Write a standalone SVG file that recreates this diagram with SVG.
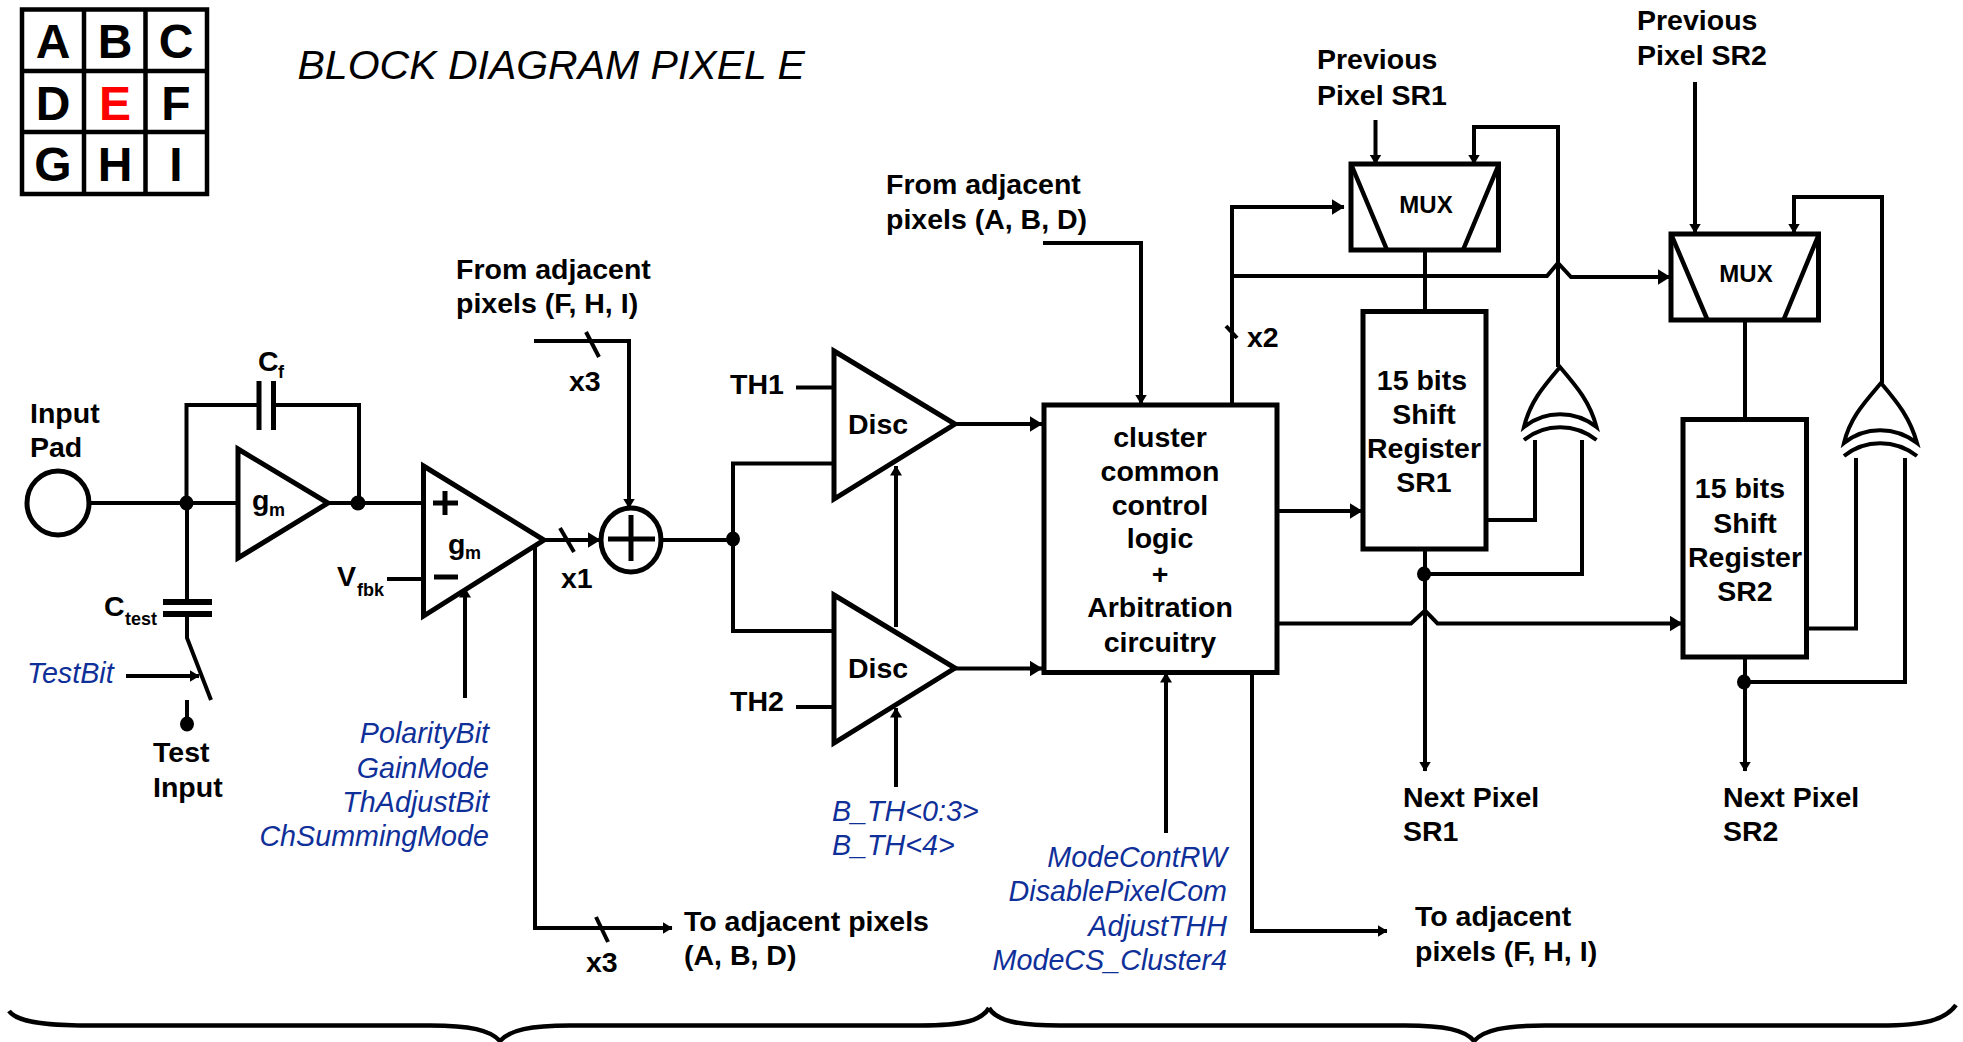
<svg xmlns="http://www.w3.org/2000/svg" width="1963" height="1042" viewBox="0 0 1963 1042">
<style>
text{font-family:"Liberation Sans",Arial,sans-serif;font-size:28.5px;fill:#000}
.b{font-weight:bold}
.i{font-style:italic;fill:#0f2f99;font-size:28.700px}
.e{text-anchor:end}
.m{text-anchor:middle}
.s{font-size:18px;font-weight:bold}
.g{font-size:48px;font-weight:bold;text-anchor:middle}
.x{font-size:24px;font-weight:bold;text-anchor:middle}
.l{fill:none;stroke:#000;stroke-width:4;stroke-linejoin:miter;stroke-linecap:butt}
.t{stroke-width:4.5}
.f{fill:#fff;stroke:#000;stroke-width:5}
.w{fill:none;stroke:#000;stroke-width:4}
.d{fill:#000}
</style>
<defs>
<marker id="a" markerUnits="userSpaceOnUse" markerWidth="10" markerHeight="12" refX="9.5" refY="6" orient="auto"><path d="M0 0L10 6L0 12Z"/></marker>
<marker id="A" markerUnits="userSpaceOnUse" markerWidth="13" markerHeight="16" refX="12.5" refY="8" orient="auto"><path d="M0 0L13 8L0 16Z"/></marker>
</defs>
<rect width="1963" height="1042" fill="#fff"/>

<g id="connectors">
<path class="l" d="M90 503H238"/>
<path class="l" d="M186.500 503V405H259M273.500 405H359V503"/>
<path class="l" d="M259 381V430M273.500 381V430" style="stroke-width:5"/>
<path class="l" d="M328 503H423"/>
<path class="l" d="M387 579H423"/>
<path class="l" marker-end="url(#A)" d="M544 540H600"/>
<path class="l" d="M560 528L574 552"/>
<path class="l" marker-end="url(#a)" d="M535 546V928H672"/>
<path class="l" d="M596 917L608 942"/>
<path class="l" d="M187 503V602M187 614V638L211 700"/>
<path class="l" d="M163 602H212M163 614H212" style="stroke-width:6"/>
<path class="l" marker-end="url(#a)" d="M126 676H199"/>
<path class="l" d="M187 700V724"/>
<path class="l" marker-end="url(#a)" d="M465 698V588"/>
<path class="l" marker-end="url(#a)" d="M534 341H629V508"/>
<path class="l" d="M586 332L599 357"/>
<path class="l" d="M661 540H733M834 463.500H733V631H834"/>
<path class="l" d="M796 387.500H834M796 707H834"/>
<path class="l" marker-end="url(#A)" d="M955 424H1042"/>
<path class="l" marker-end="url(#A)" d="M955 668.500H1042"/>
<path class="l" marker-end="url(#a)" d="M896 627V466"/>
<path class="l" marker-end="url(#a)" d="M896 787V708"/>
<path class="l" marker-end="url(#a)" d="M1043 243H1141V404"/>
<path class="l" marker-end="url(#A)" d="M1232 404V207H1344"/>
<path class="l" marker-end="url(#A)" d="M1232 276H1547L1558 263L1571 277H1670"/>
<path class="l" d="M1226 326L1237 338"/>
<path class="l" marker-end="url(#a)" d="M1375.500 120V164"/>
<path class="l" marker-end="url(#a)" d="M1558 367V127H1474V164"/>
<path class="l" d="M1425 250V311"/>
<path class="l" marker-end="url(#A)" d="M1277 511H1362"/>
<path class="l" marker-end="url(#a)" d="M1425 549V771"/>
<path class="l" d="M1424 574H1582V440"/>
<path class="l" d="M1486 520H1535V440"/>
<path class="l" marker-end="url(#A)" d="M1277 623.500H1411L1425 610.500L1437.500 623.500H1682"/>
<path class="l" marker-end="url(#a)" d="M1695 82V233"/>
<path class="l" marker-end="url(#a)" d="M1882 383V197H1794V233"/>
<path class="l" d="M1745 320V419"/>
<path class="l" d="M1806 628.500H1856V458"/>
<path class="l" marker-end="url(#a)" d="M1745 657V771"/>
<path class="l" d="M1744 682H1905V458"/>
<path class="l" marker-end="url(#a)" d="M1252 673V931H1387"/>
<path class="l" marker-end="url(#a)" d="M1166 833V673"/>
<ellipse class="d" cx="186.500" cy="503" rx="7" ry="7.500"/>
<ellipse class="d" cx="358" cy="503" rx="7.500" ry="7.500"/>
<ellipse class="d" cx="187" cy="724" rx="7" ry="7.500"/>
<ellipse class="d" cx="733" cy="539" rx="7" ry="7.500"/>
<ellipse class="d" cx="1424" cy="574" rx="7" ry="7.500"/>
<ellipse class="d" cx="1744" cy="682" rx="7" ry="7.500"/>
</g>

<g id="pixel-grid">
<path class="l t" d="M22 9.500H207V194H22ZM84 9V194M145.500 9V194M22 71H207M22 132H207"/>
<text class="g" x="53" y="57.500">A</text><text class="g" x="115" y="57.500">B</text><text class="g" x="176" y="57.500">C</text>
<text class="g" x="53" y="119.500">D</text><text class="g" x="115" y="119.500" style="fill:#f00">E</text><text class="g" x="176" y="119.500">F</text>
<text class="g" x="53" y="181">G</text><text class="g" x="115" y="181">H</text><text class="g" x="176" y="181">I</text>
</g>
<text id="title" x="297.500" y="79" style="font-size:41px;font-style:italic">BLOCK DIAGRAM PIXEL E</text>

<g id="input-pad"><ellipse class="w" cx="58" cy="503" rx="31" ry="32" style="stroke-width:5"/>
<text class="b" x="30" y="423">Input</text><text class="b" x="30" y="456.500">Pad</text></g>
<g id="cf-label"><text class="b" x="258" y="371">C</text><text class="s" x="278" y="378">f</text></g>
<g id="preamp"><path class="f" d="M238 449L328 503L238 558Z"/><text class="b" x="252" y="510">g</text><text class="s" x="269" y="516">m</text></g>
<g id="shaper"><path class="f" d="M423.500 466L544 540L423.500 616Z"/>
<path class="l" d="M445 491V515M433 503H458M434 577H458" style="stroke-width:5"/>
<text class="b" x="448" y="553.500">g</text><text class="s" x="465" y="559">m</text></g>
<g id="vfbk-label"><text class="b" x="337" y="586">V</text><text class="s" x="357" y="596">fbk</text></g>
<g id="ctest-label"><text class="b" x="104" y="616">C</text><text class="s" x="125" y="625">test</text></g>
<text class="i" x="27" y="682.500">TestBit</text>
<g id="test-input"><text class="b" x="153" y="762">Test</text><text class="b" x="153" y="796.500">Input</text></g>
<g id="shaper-controls"><text class="i e" x="489" y="743">PolarityBit</text><text class="i e" x="489" y="778">GainMode</text><text class="i e" x="489" y="812">ThAdjustBit</text><text class="i e" x="489" y="846">ChSummingMode</text></g>
<g id="adjacent-in-fhi"><text class="b" x="456" y="279">From adjacent</text><text class="b" x="456" y="313">pixels (F, H, I)</text><text class="b" x="569" y="391">x3</text></g>
<g id="summer"><ellipse class="f" cx="631" cy="540" rx="30" ry="32"/><path class="l" d="M608 539H655M631 515V561" style="stroke-width:5"/><text class="b" x="561" y="588">x1</text></g>
<g id="adjacent-out-abd"><text class="b" x="586" y="972">x3</text><text class="b" x="684" y="931">To adjacent pixels</text><text class="b" x="684" y="965">(A, B, D)</text></g>
<g id="disc1"><path class="f" d="M834 351L955 424L834 499Z"/><text class="b" x="848" y="434">Disc</text><text class="b" x="730" y="393.500">TH1</text></g>
<g id="disc2"><path class="f" d="M834 595L955 668L834 743Z"/><text class="b" x="848" y="677.500">Disc</text><text class="b" x="730" y="711">TH2</text></g>
<g id="disc-controls"><text class="i" x="832" y="821">B_TH&lt;0:3&gt;</text><text class="i" x="832" y="855">B_TH&lt;4&gt;</text></g>
<g id="adjacent-in-abd"><text class="b" x="886" y="194">From adjacent</text><text class="b" x="886" y="229">pixels (A, B, D)</text></g>
<g id="cluster-logic"><rect class="f" x="1044" y="405" width="233" height="267.500"/>
<text class="b m" x="1160" y="446.500">cluster</text><text class="b m" x="1160" y="480.500">common</text><text class="b m" x="1160" y="514.500">control</text><text class="b m" x="1160" y="548">logic</text><text class="b m" x="1160" y="583.500">+</text><text class="b m" x="1160" y="617">Arbitration</text><text class="b m" x="1160" y="652">circuitry</text></g>
<g id="cluster-controls"><text class="i e" x="1227" y="867">ModeContRW</text><text class="i e" x="1227" y="901">DisablePixelCom</text><text class="i e" x="1227" y="935.500">AdjustTHH</text><text class="i e" x="1227" y="970">ModeCS_Cluster4</text></g>
<g id="adjacent-out-fhi"><text class="b" x="1415" y="926">To adjacent</text><text class="b" x="1415" y="961">pixels (F, H, I)</text></g>
<text id="x2-label" class="b" x="1247" y="347">x2</text>
<g id="mux1"><rect class="f" x="1351" y="164" width="147.500" height="86"/><path class="l" d="M1351 164L1387 250M1499 164L1463 250" style="stroke-width:4.500"/><text class="x" x="1426" y="213">MUX</text></g>
<g id="prev-sr1"><text class="b" x="1317" y="69">Previous</text><text class="b" x="1317" y="104.500">Pixel SR1</text></g>
<g id="sr1"><rect class="f" x="1363" y="311.500" width="123" height="237.500"/><text class="b m" x="1422" y="390">15 bits</text><text class="b m" x="1424" y="424">Shift</text><text class="b m" x="1424" y="458">Register</text><text class="b m" x="1424" y="492">SR1</text></g>
<g id="xor1"><path class="w" d="M1560 367C1543 387 1530 402 1524 427C1545 410 1575 410 1596.500 427C1590 402 1577 387 1560 367ZM1524 440C1545 423 1575 423 1596.500 440"/></g>
<g id="next-sr1"><text class="b" x="1403" y="807">Next Pixel</text><text class="b" x="1403" y="841">SR1</text></g>
<g id="mux2"><rect class="f" x="1671" y="234" width="147.500" height="86"/><path class="l" d="M1671 234L1707.500 320M1819 234L1783.500 320" style="stroke-width:4.500"/><text class="x" x="1746" y="282">MUX</text></g>
<g id="prev-sr2"><text class="b" x="1637" y="29.500">Previous</text><text class="b" x="1637" y="64.500">Pixel SR2</text></g>
<g id="sr2"><rect class="f" x="1683" y="419.500" width="123.500" height="237.500"/><text class="b m" x="1740" y="498">15 bits</text><text class="b m" x="1745" y="532.500">Shift</text><text class="b m" x="1745" y="566.500">Register</text><text class="b m" x="1745" y="600.500">SR2</text></g>
<g id="xor2"><path class="w" d="M1881 383C1864 403 1850 418 1844 443C1865 426 1895 426 1917 443C1910 418 1898 403 1881 383ZM1844 456C1865 439 1895 439 1917 456"/></g>
<g id="next-sr2"><text class="b" x="1723" y="807">Next Pixel</text><text class="b" x="1723" y="841">SR2</text></g>
<g id="braces">
<path class="w" style="stroke-width:4.500" d="M9 1011C16 1021 40 1025.500 90 1025.500H430C470 1025.500 490 1030 500 1041C510 1030 530 1025.500 570 1025.500H920C965 1025.500 982 1020 989 1008"/>
<path class="w" style="stroke-width:4.500" d="M989 1008C996 1020 1015 1025.500 1060 1025.500H1405C1445 1025.500 1465 1030 1474 1041C1484 1030 1504 1025.500 1545 1025.500H1880C1925 1025.500 1945 1020 1956 1005"/>
</g>
</svg>
